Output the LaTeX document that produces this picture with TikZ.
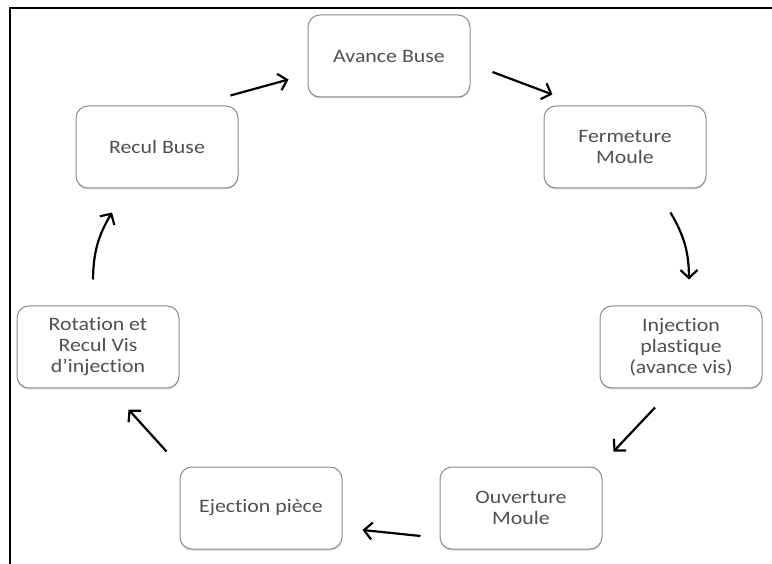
\documentclass[tikz,border=0pt]{standalone}
\usepackage{fontspec}
\setmainfont{Carlito}[FakeStretch=1.15, Ligatures={TeX,NoCommon}]
\usetikzlibrary{arrows.meta, shadows, positioning, calc}
\definecolor{texte}{RGB}{80,80,80}
\definecolor{bord}{RGB}{140,140,140}

\tikzset{
  etape/.style={draw=bord, line width=1pt, rounded corners=12pt, fill=white,
    minimum width=162pt, minimum height=82pt, align=center, text=texte,
    font=\fontsize{19}{21}\selectfont,
    drop shadow={shadow xshift=0pt, shadow yshift=-1.5pt, opacity=0.35}},
  fleche/.style={line width=2.2pt, -{Straight Barb[length=8pt,width=17pt]}}
}

\begin{document}
\begin{tikzpicture}[x=1pt, y=-1pt]
        \useasboundingbox (0,0) rectangle (772,564);
        \draw[line width=2pt] (10,564) -- (10,8) -- (772,8);

        \node[etape] (AB) at (389,56) {Avance Buse};
        \node[etape] (FM) at (625,147) {Fermeture\\Moule};
        \node[etape] (IP) at (681,347) {Injection\\plastique\\(avance vis)};
        \node[etape] (OM) at (521,508) {Ouverture\\Moule};
        \node[etape] (EP) at (261,508) {Ejection pièce};
        \node[etape] (RV) at (98,347) {Rotation et\\Recul Vis\\d'injection};
        \node[etape] (RB) at (157,147) {Recul Buse};

        \draw[fleche] ($(RB.north east)+(-8,-10)$) -- ($(AB.south west)+(-19,-18)$);
        \draw[fleche] ($(AB.east)+(22,16)$) -- ($(FM.north west)+(9,-11)$);
        \draw[fleche] ($(FM.south east)+(-36,24)$) to[bend left=15] ($(IP.north)+(8,-26)$);
        \draw[fleche] ($(IP.south)+(-26,19)$) -- ($(OM.north east)+(11,-15)$);
        \draw[fleche] ($(OM.west)+(-19,28)$) -- ($(EP.east)+(20,22)$);
        \draw[fleche] ($(EP.north west)+(-13,-15)$) -- ($(RV.south east)+(-51,21)$);
        \draw[fleche] ($(RV.north)+(-5,-26)$) to[bend left=15] ($(RB.south)+(-45,24)$);
\end{tikzpicture}
\end{document}
